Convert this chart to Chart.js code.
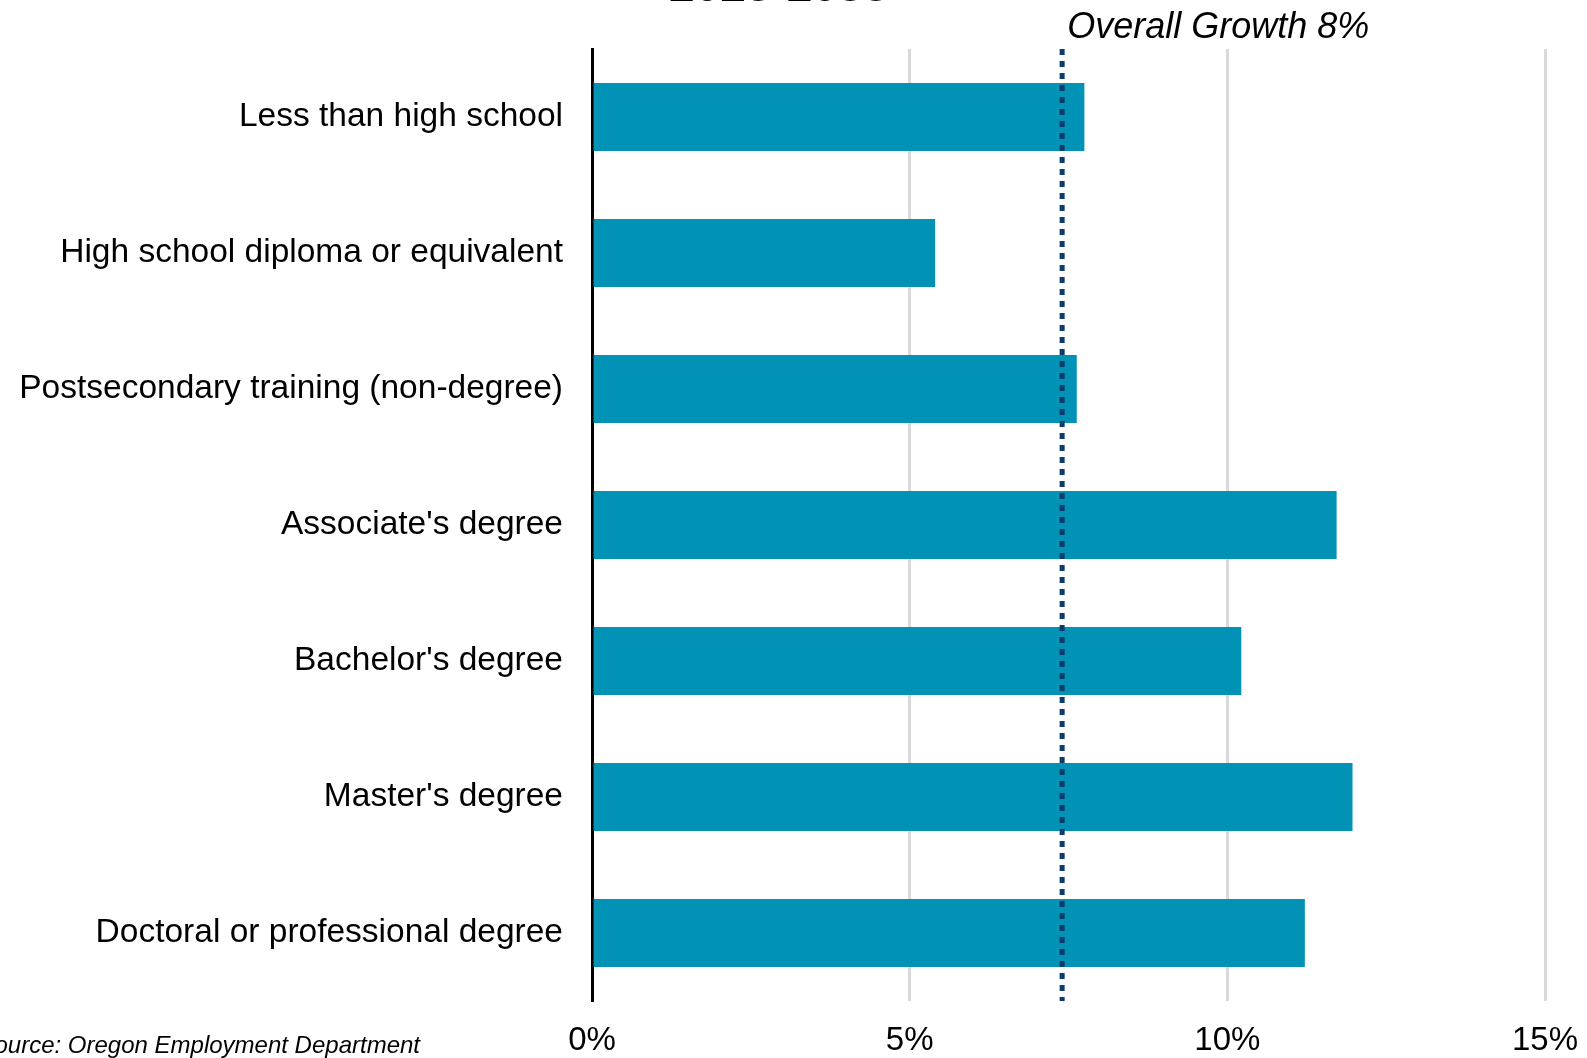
<!DOCTYPE html>
<html>
<head>
<meta charset="utf-8">
<script src="https://cdn.jsdelivr.net/npm/chart.js@4"></script>
<style>
  html, body { margin: 0; padding: 0; background: #fff; }
  #wrap { width: 1587px; height: 1058px; position: relative; }
</style>
</head>
<body>
<div id="wrap"><canvas id="eduChart"></canvas></div>
<script>
const categories = [
    'Less than high school',
    'High school diploma or equivalent',
    'Postsecondary training (non-degree)',
    "Associate's degree",
    "Bachelor's degree",
    "Master's degree",
    'Doctoral or professional degree'
];
const growthPct = [7.75, 5.4, 7.63, 11.72, 10.22, 11.97, 11.22];
const overallGrowth = 7.4;
const overallLabel = 'Overall Growth 8%';
const xTicks = [0, 5, 10, 15];
const titleText = '2023-2033';
const sourceText = 'Source: Oregon Employment Department';

const FONT = '"Liberation Sans", Arial, sans-serif';

// dotted "overall" line, its label, the clipped title and the source note
const extrasPlugin = {
    id: 'extras',
    afterDatasetsDraw(chart) {
        const ctx = chart.ctx;
        const area = chart.chartArea;
        const x = chart.scales.x.getPixelForValue(overallGrowth);
        ctx.save();
        ctx.strokeStyle = '#0b3c6c';
        ctx.lineWidth = 5;
        ctx.setLineDash([6, 6]);
        ctx.beginPath();
        ctx.moveTo(x, area.top);
        ctx.lineTo(x, area.bottom);
        ctx.stroke();
        ctx.restore();
    },
    afterDraw(chart) {
        const ctx = chart.ctx;
        const x = chart.scales.x.getPixelForValue(overallGrowth);
        ctx.save();
        ctx.fillStyle = '#000';
        ctx.font = 'italic 36px ' + FONT;
        ctx.textAlign = 'left';
        ctx.textBaseline = 'alphabetic';
        ctx.fillText(overallLabel, x + 5, 38);

        ctx.font = 'bold 46px ' + FONT;
        ctx.textAlign = 'center';
        ctx.fillText(titleText, 779, 1);

        ctx.font = 'italic 24px ' + FONT;
        ctx.textAlign = 'right';
        ctx.fillText(sourceText, 420, 1053);
        ctx.restore();
    }
};

const ctx = document.getElementById('eduChart').getContext('2d');
const chart = new Chart(ctx, {
    type: 'bar',
    data: {
        labels: categories,
        datasets: [{
            label: 'Growth',
            data: growthPct,
            backgroundColor: '#0192b5',
            borderWidth: 0,
            categoryPercentage: 1,
            barPercentage: 0.5
        }]
    },
    options: {
        indexAxis: 'y',
        responsive: true,
        maintainAspectRatio: false,
        animation: false,
        layout: { padding: { top: 49, right: 42, left: 0, bottom: 0 } },
        plugins: {
            legend: { display: false },
            tooltip: { enabled: false }
        },
        scales: {
            x: {
                min: 0,
                max: 15,
                afterBuildTicks: (scale) => {
                    scale.ticks = xTicks.map(v => ({ value: v }));
                },
                afterFit: (scale) => {
                    scale.height = 57;
                    scale.paddingLeft = 0;
                    scale.paddingRight = 0;
                },
                ticks: {
                    callback: (v) => v + '%',
                    color: '#000',
                    font: { family: FONT, size: 33 },
                    padding: 20,
                    maxRotation: 0
                },
                grid: {
                    color: (c) => c.tick && c.tick.value === 0 ? 'rgba(0,0,0,0)' : '#d9d9d9',
                    lineWidth: 3,
                    drawTicks: false
                },
                border: { display: false }
            },
            y: {
                afterFit: (scale) => { scale.width = 592; },
                ticks: {
                    color: '#000',
                    font: { family: FONT, size: 33.5 },
                    padding: 29
                },
                grid: { display: false, drawTicks: false },
                border: { display: true, color: '#000', width: 3 }
            }
        }
    },
    plugins: [extrasPlugin]
});
</script>
</body>
</html>
